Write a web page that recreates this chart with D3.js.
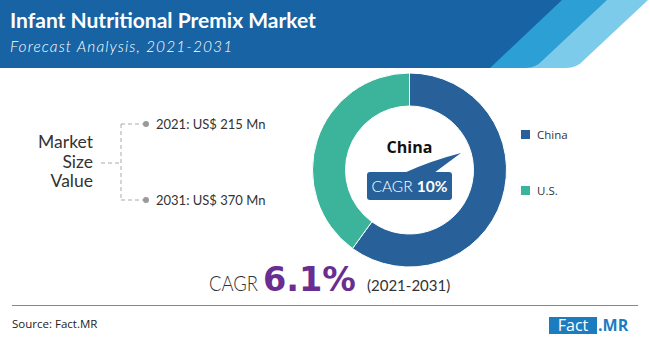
<!DOCTYPE html>
<html>
<head>
<meta charset="utf-8">
<script src="https://cdn.jsdelivr.net/npm/d3@7"></script>
<style>
  html, body { margin: 0; padding: 0; background: #fff; }
  svg { display: block; }
</style>
</head>
<body>
<svg id="chart" width="650" height="341"></svg>
<script>
// Market share split of the premix market by region
const regions = ["China", "U.S."];
const shares = [60, 40];
const regionColors = ["#28609a", "#3cb49b"];

// Market size values by year (US$ Mn)
const marketYears = ["2021", "2031"];
const marketValues = [215, 370];

// Growth rates (%)
const cagrOverall = 6.1;
const cagrChina = 10;
const forecastPeriod = "(2021-2031)";

const svg = d3.select("#chart");

// ---------- header band ----------
const header = svg.append("g");
header.append("path")
  .attr("d", "M0,0 H648 L584,60 Q577,68 566,68 H0 Z")
  .attr("fill", "#7dcbea");
header.append("path")
  .attr("d", "M0,0 H607 L543,60 Q536,68 525,68 H0 Z")
  .attr("fill", "#2c9fd5");
header.append("path")
  .attr("d", "M0,0 H562 L490,68 H0 Z")
  .attr("fill", "#1763a3");

header.append("text")
  .attr("x", 10).attr("y", 28)
  .attr("fill", "#fff")
  .attr("font-family", "Lato, 'Open Sans', sans-serif")
  .attr("font-weight", 700)
  .attr("font-size", 21)
  .text("Infant Nutritional Premix Market");
header.append("text")
  .attr("x", 10).attr("y", 52)
  .attr("fill", "#fff")
  .attr("font-family", "Lato, 'Open Sans', sans-serif")
  .attr("font-style", "italic")
  .attr("font-weight", 300)
  .attr("font-size", 15.5)
  .attr("letter-spacing", 1.1)
  .text("Forecast Analysis, 2021-2031");

// ---------- market size bracket ----------
const left = svg.append("g");
const labelFont = "Lato, 'Open Sans', sans-serif";
["Market", "Size", "Value"].forEach((t, i) => {
  left.append("text")
    .attr("x", 93).attr("y", 148 + i * 19.5)
    .attr("text-anchor", "end")
    .attr("fill", "#333")
    .attr("font-family", labelFont)
    .attr("font-size", 17.5)
    .text(t);
});

const yBr = d3.scalePoint().domain(marketYears).range([124, 200]);
const applyDash = sel => sel
  .attr("stroke", "#aaa").attr("stroke-width", 1).attr("stroke-dasharray", "4,3");
applyDash(left.append("line").attr("x1", 101).attr("x2", 121).attr("y1", 163).attr("y2", 163));
applyDash(left.append("line").attr("x1", 121).attr("x2", 121).attr("y1", yBr("2021")).attr("y2", yBr("2031")));
marketYears.forEach((yr, i) => {
  const y = yBr(yr);
  applyDash(left.append("line").attr("x1", 121).attr("x2", 143).attr("y1", y).attr("y2", y));
  left.append("circle").attr("cx", 146).attr("cy", y).attr("r", 3).attr("fill", "#999");
  left.append("text")
    .attr("x", 156).attr("y", y + 4.5)
    .attr("fill", "#333")
    .attr("font-family", labelFont)
    .attr("font-size", 13)
    .text(`${yr}: US$ ${marketValues[i]} Mn`);
});

// ---------- donut ----------
const cx = 409.5, cy = 170, rOut = 97, rIn = 64;
const pie = d3.pie().sort(null).value(d => d);
const arc = d3.arc().innerRadius(rIn).outerRadius(rOut);
const donut = svg.append("g").attr("transform", `translate(${cx},${cy})`);
donut.selectAll("path")
  .data(pie(shares))
  .join("path")
  .attr("d", arc)
  .attr("fill", (d, i) => regionColors[i])
  .attr("stroke", "#fff")
  .attr("stroke-width", 1);

// centre label and callout
donut.append("text")
  .attr("x", 0).attr("y", -17)
  .attr("text-anchor", "middle")
  .attr("fill", "#111")
  .attr("font-family", "'Open Sans', Lato, sans-serif")
  .attr("font-weight", 700)
  .attr("font-size", 16)
  .text(regions[0]);

const call = svg.append("g");
call.append("path")
  .attr("d", "M404,173 Q430,161 461,153 Q446,164 434,173 Z")
  .attr("fill", regionColors[0]);
call.append("rect")
  .attr("x", 367).attr("y", 172).attr("width", 85).attr("height", 28).attr("rx", 3)
  .attr("fill", regionColors[0]);
const ct = call.append("text")
  .attr("x", 409.5).attr("y", 192)
  .attr("text-anchor", "middle")
  .attr("fill", "#fff")
  .attr("font-family", labelFont)
  .attr("font-size", 15.5);
ct.append("tspan").attr("font-weight", 300).text("CAGR ");
ct.append("tspan").attr("font-weight", 700).text(`${cagrChina}%`);

// legend
const lg = svg.append("g");
const yLg = d3.scalePoint().domain(regions).range([134.5, 190.5]);
regions.forEach((r, i) => {
  lg.append("rect")
    .attr("x", 521).attr("y", yLg(r) - 4.5).attr("width", 9).attr("height", 9)
    .attr("fill", regionColors[i]);
  lg.append("text")
    .attr("x", 537).attr("y", yLg(r) + 4)
    .attr("fill", "#333")
    .attr("font-family", "'Open Sans', Lato, sans-serif")
    .attr("font-size", 11.5)
    .text(r);
});

// ---------- overall CAGR ----------
svg.append("text")
  .attr("x", 209).attr("y", 291)
  .attr("fill", "#333")
  .attr("font-family", labelFont)
  .attr("font-size", 21).attr("font-weight", 300)
  .attr("textLength", 49).attr("lengthAdjust", "spacingAndGlyphs")
  .text("CAGR");
svg.append("text")
  .attr("x", 263).attr("y", 291)
  .attr("fill", "#6a2d91")
  .attr("font-family", "'DejaVu Sans', sans-serif")
  .attr("font-size", 33.5).attr("font-weight", 700)
  .text(`${cagrOverall}%`);
svg.append("text")
  .attr("x", 367).attr("y", 291)
  .attr("fill", "#333")
  .attr("font-family", labelFont)
  .attr("font-size", 15)
  .text(forecastPeriod);

// ---------- footer ----------
svg.append("line")
  .attr("x1", 12).attr("x2", 638).attr("y1", 305.5).attr("y2", 305.5)
  .attr("stroke", "#888").attr("stroke-width", 1.2);
svg.append("text")
  .attr("x", 12).attr("y", 328)
  .attr("fill", "#222")
  .attr("font-family", "'Open Sans', sans-serif")
  .attr("font-size", 11.5)
  .text("Source: Fact.MR");

svg.append("rect")
  .attr("x", 549).attr("y", 317).attr("width", 48).attr("height", 17)
  .attr("fill", "#1b7dbf");
svg.append("text")
  .attr("x", 573).attr("y", 331)
  .attr("text-anchor", "middle")
  .attr("fill", "#fff")
  .attr("font-family", "'Open Sans', sans-serif")
  .attr("font-size", 16)
  .text("Fact");
svg.append("text")
  .attr("x", 598).attr("y", 331)
  .attr("fill", "#1b7dbf")
  .attr("font-family", "'Open Sans', sans-serif")
  .attr("font-weight", 700)
  .attr("font-size", 16)
  .text(".MR");
</script>
</body>
</html>
